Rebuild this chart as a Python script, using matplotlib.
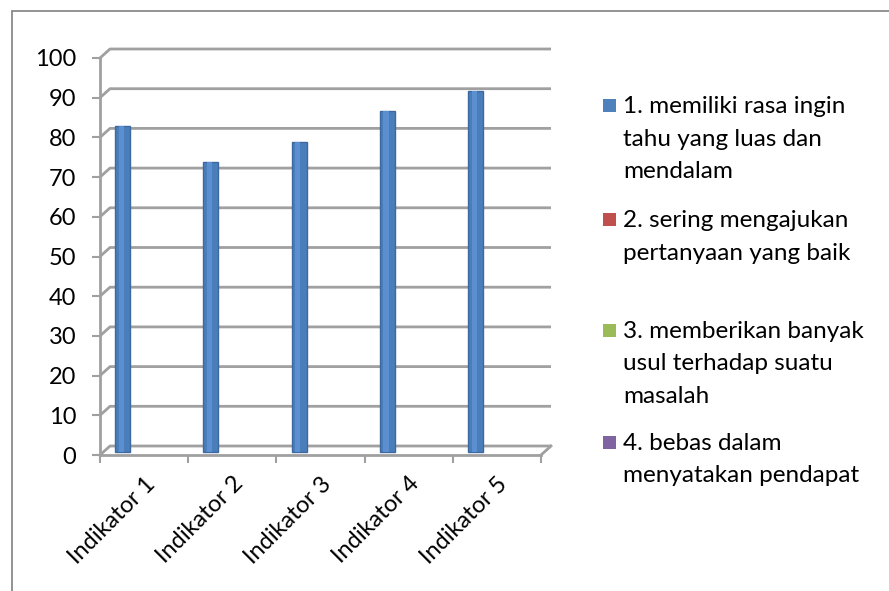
import matplotlib
matplotlib.use("Agg")
import matplotlib.pyplot as plt
from matplotlib.patches import Rectangle
from matplotlib.transforms import ScaledTranslation

categories = ["Indikator 1", "Indikator 2", "Indikator 3", "Indikator 4", "Indikator 5"]
values = [82, 73, 78, 86, 91]
yticks = [0, 10, 20, 30, 40, 50, 60, 70, 80, 90, 100]
legend_lines = [
    ["1. memiliki rasa ingin", "tahu yang luas dan", "mendalam"],
    ["2. sering mengajukan", "pertanyaan yang baik"],
    ["3. memberikan banyak", "usul terhadap suatu", "masalah"],
    ["4. bebas dalam", "menyatakan pendapat"],
]
legend_colors = ["#4F81BD", "#C0504D", "#9BBB59", "#8064A2"]

plt.rcParams['font.family'] = ['Lato', 'DejaVu Sans']
W, H, DPI = 889, 591, 100
fig = plt.figure(figsize=(W / DPI, H / DPI), dpi=DPI)

# outer chart border (extends beyond right/bottom)
fig.patches.append(Rectangle((12 / W, -0.05), 1.1, 1 - 11 / H + 0.05, transform=fig.transFigure,
                             fill=False, edgecolor="#8a8a8a", lw=1.3))

ax_l, ax_r, ax_t, ax_b = 100, 541, 58, 455
ax = fig.add_axes([ax_l / W, 1 - ax_b / H, (ax_r - ax_l) / W, (ax_b - ax_t) / H])
ax.set_xlim(0, len(categories))
ax.set_ylim(0, 100)
ax.patch.set_alpha(0)

ax_w_px, ax_h_px = ax_r - ax_l, ax_b - ax_t
dx_px, dy_px = 10, 9
dx = dx_px * len(categories) / ax_w_px
dy = dy_px * 100 / ax_h_px
gc = "#a0a0a0"
glw = 2.0
n = len(categories)
for v in yticks:
    ax.plot([0, dx, n + dx], [v, v + dy, v + dy], color=gc, lw=glw, clip_on=False,
            solid_capstyle="butt", zorder=1)
ax.plot([n, n + dx], [0, dy], color=gc, lw=glw, clip_on=False, zorder=1)

shift = ScaledTranslation(dx_px / 3 / DPI, dy_px / 3 / DPI, fig.dpi_scale_trans)
xs = [i + 0.22 for i in range(n)]
ax.bar(xs, values, width=0.17, color="#4A7EBB", edgecolor="#3B69A0", lw=1.0,
       transform=ax.transData + shift, clip_on=False, zorder=3)
ax.bar([x - 0.015 for x in xs], values, width=0.06, color="#5B8FD0", lw=0,
       transform=ax.transData + shift, clip_on=False, zorder=4)

for s in ["top", "right"]:
    ax.spines[s].set_visible(False)
for s in ["left", "bottom"]:
    ax.spines[s].set_color(gc)
    ax.spines[s].set_linewidth(glw)

fs = 17
ax.set_yticks(yticks)
ax.set_yticklabels([str(v) for v in yticks], fontsize=fs)
ax.tick_params(axis="y", length=6, width=1.5, color=gc, pad=11)

ax.set_xticks([i + 0.5 for i in range(n)])
ax.set_xticklabels(categories, fontsize=fs, rotation=45, ha="right", rotation_mode="anchor")
ax.set_xticks(range(n + 1), minor=True)
ax.tick_params(axis="x", which="major", length=0, pad=13)
ax.tick_params(axis="x", which="minor", length=6, width=1.5, color=gc)

first_lines_y = [113, 227, 338, 450]
line_gap = 32.5
for lines, col, yb in zip(legend_lines, legend_colors, first_lines_y):
    fig.patches.append(Rectangle((603 / W, 1 - (yb - 1) / H), 13 / W, 13 / H,
                                 transform=fig.transFigure, facecolor=col, edgecolor="none"))
    for k, line in enumerate(lines):
        fig.text(623 / W, 1 - (yb + k * line_gap) / H, line, fontsize=17.5, va="baseline",
                 ha="left", color="black")

fig.savefig("out.png", dpi=DPI)
